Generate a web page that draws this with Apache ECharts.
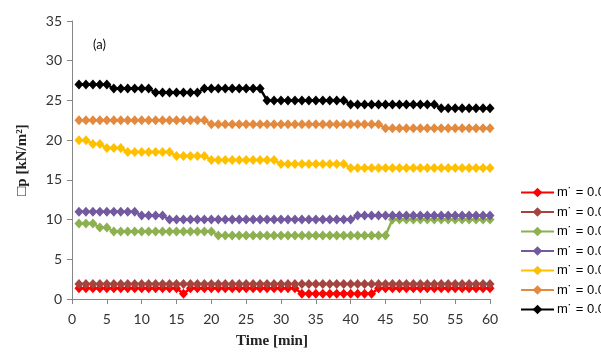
<!DOCTYPE html>
<html><head><meta charset="utf-8">
<script src="https://cdn.jsdelivr.net/npm/echarts@6/dist/echarts.min.js"></script>
<style>html,body{margin:0;padding:0;background:#fff}#c{width:601px;height:360px}</style>
</head><body><div id="c"></div>
<script>
const minutes = Array.from({length: 60}, (_, i) => i + 1);
const xTicks = [0,5,10,15,20,25,30,35,40,45,50,55,60];
const yTicks = [0,5,10,15,20,25,30,35];
const legendLabel = "m˙ = 0.0";

function runs(pairs){ // [value, count] pairs
  const out=[]; pairs.forEach(([v,n])=>{for(let i=0;i<n;i++) out.push(v);}); return out;
}
const redVals    = runs([[1.35,15],[0.65,1],[1.35,16],[0.65,11],[1.35,17]]);
const brownVals  = runs([[1.9,60]]);
const greenVals  = runs([[9.5,3],[9,2],[8.5,15],[8,25],[10,15]]);
const purpleVals = runs([[11,9],[10.5,4],[10,27],[10.5,20]]);
const yellowVals = runs([[20,2],[19.5,2],[19,3],[18.5,7],[18,5],[17.5,10],[17,10],[16.5,21]]);
const orangeVals = runs([[22.5,19],[22,25],[21.5,16]]);
const blackVals  = runs([[27,5],[26.5,6],[26,7],[26.5,9],[25,12],[24.5,13],[24,8]]);

const seriesDefs = [
  {vals: redVals,    color: '#FF0000'},
  {vals: brownVals,  color: '#A5443F'},
  {vals: greenVals,  color: '#8DB050'},
  {vals: purpleVals, color: '#7259A0'},
  {vals: yellowVals, color: '#FFC000'},
  {vals: orangeVals, color: '#E38A3E'},
  {vals: blackVals,  color: '#000000'}
];

const chart = echarts.init(document.getElementById('c'));
const labelFont = {fontFamily: 'Lato', fontSize: 14, color: '#333'};
chart.setOption({
  animation: false,
  grid: {left: 72, right: 111, top: 21, bottom: 61},
  xAxis: {
    type: 'value', min: 0, max: 60, interval: 5,
    name: 'Time [min]', nameLocation: 'middle', nameGap: 35,
    nameTextStyle: {fontFamily: 'Liberation Serif', fontWeight: 'bold', fontSize: 15, color: '#222', padding:[0,18,0,0]},
    axisLine: {lineStyle: {color: '#868686'}},
    axisTick: {inside: false, length: 5, lineStyle: {color: '#868686'}},
    axisLabel: Object.assign({margin: 13, formatter: v => xTicks.includes(v) ? String(v) : ''}, labelFont),
    splitLine: {show: false}
  },
  yAxis: {
    type: 'value', min: 0, max: 35, interval: 5,
    name: '\u25A1p [kN/m²]', nameLocation: 'middle', nameGap: 42,
    nameTextStyle: {fontFamily: 'Liberation Serif', fontWeight: 'bold', fontSize: 15, color: '#222'},
    axisLine: {show: true, lineStyle: {color: '#868686'}},
    axisTick: {show: true, inside: false, length: 5, lineStyle: {color: '#868686'}},
    axisLabel: Object.assign({margin: 10, formatter: v => yTicks.includes(v) ? String(v) : ''}, labelFont),
    splitLine: {show: false}
  },
  legend: {
    orient: 'vertical', left: 515, top: 181,
    itemWidth: 33, itemHeight: 12, itemGap: 6.5,
    textStyle: {fontFamily: 'Liberation Sans', fontSize: 13, color: '#000', lineHeight: 12,
                padding: [0,0,0,-2]},
    data: seriesDefs.map((s, i) => ({name: legendLabel + '\u200B'.repeat(i)}))
  },
  graphic: [{type: 'text', left: 93, top: 38, style: {text: '(a)', font: '13px Lato', fill: '#111'}}],
  series: seriesDefs.map((s, i) => ({
    name: legendLabel + '\u200B'.repeat(i),
    type: 'line',
    data: minutes.map((m, k) => [m, s.vals[k]]),
    symbol: 'diamond', symbolSize: [9, 10],
    showAllSymbol: true,
    lineStyle: {color: s.color, width: 2.5},
    itemStyle: {color: s.color, borderWidth: 0},
    emphasis: {disabled: true}
  }))
});
</script></body></html>
